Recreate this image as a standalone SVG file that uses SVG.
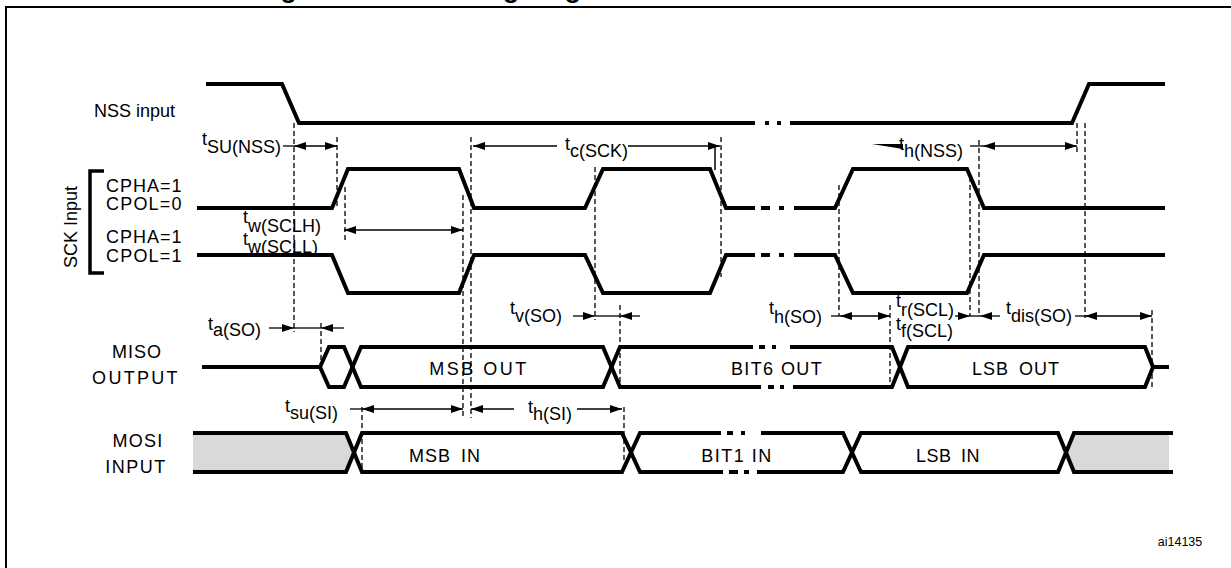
<svg xmlns="http://www.w3.org/2000/svg" width="1231" height="568" viewBox="0 0 1231 568">
<style>
.sig{fill:none;stroke:#000;stroke-width:4;stroke-linejoin:miter;stroke-linecap:butt}
.dsh{fill:none;stroke:#000;stroke-width:1.3;stroke-dasharray:5 3}
.arw{fill:none;stroke:#000;stroke-width:1.3}
.txt{font-family:'Liberation Sans',Arial,sans-serif;font-size:18px;fill:#000}
.gray{fill:#d9d9d9;stroke:none}
</style>
<defs>
<marker id="ah" viewBox="0 0 12 8" refX="12" refY="4" markerWidth="12" markerHeight="8" markerUnits="userSpaceOnUse" orient="auto-start-reverse">
<path d="M0,0 L12,4 L0,8 z" fill="#000"/>
</marker>
</defs>
<rect width="1231" height="568" fill="#fff"/>
<g id="frame">
<path d="M6,568 V7 H1231" fill="none" stroke="#000" stroke-width="2"/>
<text x="257" y="-2.5" font-family="'Liberation Sans',Arial,sans-serif" font-size="26.5" font-weight="bold">Figure 17. SPI timing diagram - slave mode and CPHA = 1</text>
</g>
<g id="nss">
<text class="txt" x="94" y="117" font-size="18.5">NSS input</text>
<path class="sig" d="M206,84 H282 L299,123 H755 M765,123 h4 M777,123 h4 M790,123 H1072 L1089,84 H1165"/>
</g>
<g id="sck">
<path d="M104,171 H90 V273 H104" fill="none" stroke="#000" stroke-width="3.5"/>
<text class="txt" transform="translate(77,227) rotate(-90)" text-anchor="middle" font-size="17">SCK Input</text>
<text class="txt" x="106" y="192" letter-spacing="1">CPHA=1</text>
<text class="txt" x="106" y="210" letter-spacing="1.2">CPOL=0</text>
<text class="txt" x="106" y="243" letter-spacing="1">CPHA=1</text>
<text class="txt" x="106" y="262" letter-spacing="1.2">CPOL=1</text>
<path class="sig" d="M197,208 H332 L348,169 H459 L474,208 H585 L603,169 H710 L726,208 H755 M761,208 h9 M779,208 h5 M794,208 H835 L853,169 H967 L984,208 H1165"/>
<path class="sig" d="M197,255 H332 L348,293 H459 L474,255 H585 L603,293 H710 L726,255 H755 M761,255 h9 M779,255 h5 M794,255 H835 L853,293 H967 L984,255 H1165"/>
</g>
<g id="miso">
<text class="txt" x="137" y="358" text-anchor="middle" letter-spacing="1">MISO</text>
<text class="txt" x="136" y="384" text-anchor="middle" letter-spacing="2.3">OUTPUT</text>
<path class="sig" d="M202,367 H320 L329,347 H344 L361,387 H603 L620,347 H753 M759,347 h6 M772,347 h4 M790,347 H892 L908,387 H1145 L1153,367"/>
<path class="sig" d="M320,367 L329,387 H344 L361,347 H603 L620,387 H761 M768,387 h6 M780,387 h4 M793,387 H892 L908,347 H1145 L1153,367 H1169"/>
<text class="txt" x="479" y="375" text-anchor="middle" letter-spacing="2.5">MSB OUT</text>
<text class="txt" x="777" y="375" text-anchor="middle" letter-spacing="1.4">BIT6 OUT</text>
<text class="txt" x="1016" y="375" text-anchor="middle" letter-spacing="1" word-spacing="4">LSB OUT</text>
</g>
<g id="mosi">
<text class="txt" x="138" y="447" text-anchor="middle" letter-spacing="1.3">MOSI</text>
<text class="txt" x="136" y="473" text-anchor="middle" letter-spacing="1.5">INPUT</text>
<polygon class="gray" points="193,433 346,433 354,452.5 346,472 193,472"/>
<polygon class="gray" points="1066,452.5 1074,433 1169,433 1169,472 1074,472"/>
<path class="sig" d="M193,433 H346 L362,472 H622 L640,433 H721 M727,433 h6 M741,433 h4 M761,433 H843 L861,472 H1058 L1074,433 H1173"/>
<path class="sig" d="M193,472 H346 L362,433 H622 L640,472 H723 M729,472 h9 M744,472 h5 M757,472 H843 L861,433 H1058 L1074,472 H1173"/>
<text class="txt" x="445" y="462" text-anchor="middle" letter-spacing="1" word-spacing="4">MSB IN</text>
<text class="txt" x="737" y="462" text-anchor="middle" letter-spacing="1.5">BIT1 IN</text>
<text class="txt" x="948" y="462" text-anchor="middle" letter-spacing="0.5" word-spacing="4">LSB IN</text>
</g>
<g id="connectors">
<g id="guides">
<path class="dsh" d="M294,123 V332 M337,137 V208 M345,187 V240 M463,195 V418 M471,137 V418 M595,167 V320 M620,305 V387 M624,407 V463 M362,407 V470 M321,323 V367 M721,137 V277 M839,185 V316 M890,305 V387 M970,177 V316 M979,140 V316 M1077,123 V153 M1085,123 V318 M1152,310 V387"/>
<path d="M715,146 V170" fill="none" stroke="#000" stroke-width="1.5"/>
</g>
<g id="arrows">
<line class="arw" x1="283" y1="146" x2="294" y2="146"/>
<line class="arw" x1="294" y1="146" x2="337" y2="146" marker-start="url(#ah)" marker-end="url(#ah)"/>
<line class="arw" x1="473" y1="146" x2="557" y2="146" marker-start="url(#ah)"/>
<line class="arw" x1="628" y1="146" x2="720" y2="146" marker-end="url(#ah)"/>
<polygon points="872,144 903,144 903,149" fill="#000"/>
<line class="arw" x1="970" y1="146" x2="983" y2="146"/>
<line class="arw" x1="983" y1="146" x2="1077" y2="146" marker-start="url(#ah)" marker-end="url(#ah)"/>
<line class="arw" x1="344" y1="230" x2="463" y2="230" marker-start="url(#ah)" marker-end="url(#ah)"/>
<line class="arw" x1="269" y1="328" x2="294" y2="328" marker-end="url(#ah)"/>
<line class="arw" x1="294" y1="328" x2="321" y2="328"/>
<line class="arw" x1="344" y1="328" x2="321" y2="328" marker-end="url(#ah)"/>
<line class="arw" x1="573" y1="316" x2="595" y2="316" marker-end="url(#ah)"/>
<line class="arw" x1="595" y1="316" x2="620" y2="316"/>
<line class="arw" x1="640" y1="316" x2="620" y2="316" marker-end="url(#ah)"/>
<line class="arw" x1="831" y1="316" x2="840" y2="316"/>
<line class="arw" x1="840" y1="316" x2="890" y2="316" marker-start="url(#ah)" marker-end="url(#ah)"/>
<line class="arw" x1="955" y1="316" x2="970" y2="316" marker-end="url(#ah)"/>
<line class="arw" x1="970" y1="316" x2="980" y2="316"/>
<line class="arw" x1="1000" y1="316" x2="980" y2="316" marker-end="url(#ah)"/>
<line class="arw" x1="1075" y1="316" x2="1085" y2="316"/>
<line class="arw" x1="1085" y1="316" x2="1152" y2="316" marker-start="url(#ah)" marker-end="url(#ah)"/>
<line class="arw" x1="350" y1="409" x2="362" y2="409"/>
<line class="arw" x1="362" y1="409" x2="463" y2="409" marker-start="url(#ah)" marker-end="url(#ah)"/>
<line class="arw" x1="471" y1="409" x2="514" y2="409" marker-start="url(#ah)"/>
<line class="arw" x1="577" y1="409" x2="622" y2="409" marker-end="url(#ah)"/>
</g>
<g id="timing-labels" class="txt">
<text x="202" y="145">t<tspan y="153">SU(NSS)</tspan></text>
<text x="565" y="150">t<tspan y="157">c(SCK)</tspan></text>
<text x="899" y="150">t<tspan y="157">h(NSS)</tspan></text>
<text x="243" y="223">t<tspan y="232">w(SCLH)</tspan></text>
<text x="243" y="245">t<tspan y="253">w(SCLL)</tspan></text>
<text x="208" y="330">t<tspan y="336">a(SO)</tspan></text>
<text x="510" y="314">t<tspan y="322">v(SO)</tspan></text>
<text x="769" y="314">t<tspan y="323">h(SO)</tspan></text>
<text x="896" y="307">t<tspan y="316">r(SCL)</tspan></text>
<text x="896" y="330">t<tspan y="337">f(SCL)</tspan></text>
<text x="1006" y="314">t<tspan y="322">dis(SO)</tspan></text>
<text x="285" y="412">t<tspan y="419">su(SI)</tspan></text>
<text x="528" y="413">t<tspan y="420">h(SI)</tspan></text>
</g>
</g>
<text id="ref" x="1180" y="546" text-anchor="middle" font-family="'Liberation Sans',Arial,sans-serif" font-size="12.5">ai14135</text>
</svg>
